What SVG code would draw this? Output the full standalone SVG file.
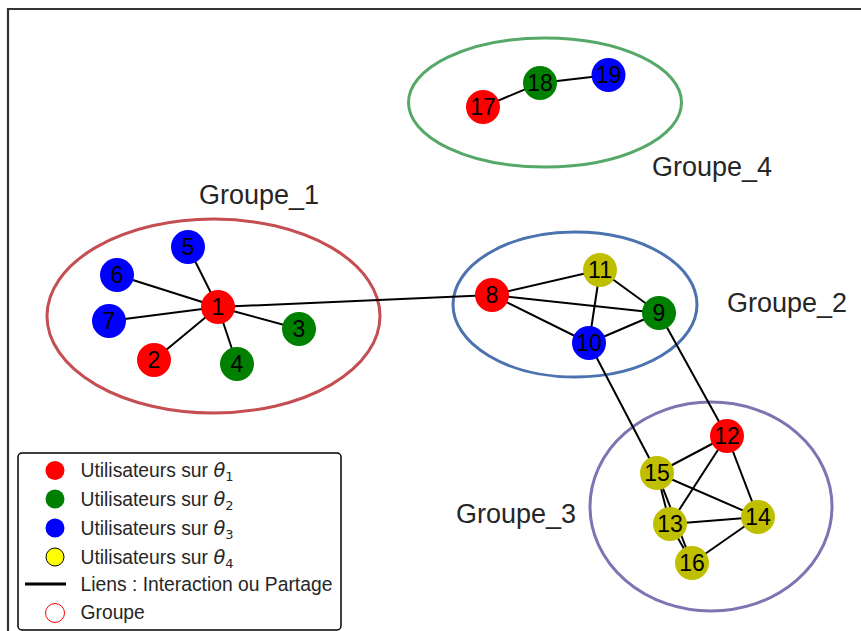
<svg xmlns="http://www.w3.org/2000/svg" width="861" height="631" viewBox="0 0 861 631">
<style>
.edge{stroke:#000;stroke-width:2;fill:none}
.grp{fill:none;stroke-width:3}
.n circle{stroke:none}
.n text{font-family:"Liberation Sans",Arial,sans-serif;font-size:23px;text-anchor:middle;fill:#000}
.r{fill:#ff0000}.g{fill:#008000}.b{fill:#0000ff}.y{fill:#bfbf00}
.lbl{font-family:"Liberation Sans",Arial,sans-serif;font-size:27px;fill:#262626}
.leg{font-family:"Liberation Sans",Arial,sans-serif;font-size:19.3px;fill:#262626}
.th{font-family:"DejaVu Sans",sans-serif;font-style:italic}
.sub{font-family:"DejaVu Sans",sans-serif;font-size:13px}
</style>
<rect width="861" height="631" fill="#fff"/>
<path d="M8,631 V9 H861" fill="none" stroke="#333" stroke-width="2.2"/>

<g id="groups">
<ellipse id="groupe1" class="grp" cx="213.5" cy="316" rx="166.5" ry="97" stroke="#c44e52"/>
<ellipse id="groupe2" class="grp" cx="575" cy="304.5" rx="122" ry="72.5" stroke="#4c72b0"/>
<ellipse id="groupe3" class="grp" cx="711" cy="506.5" rx="121" ry="104.5" stroke="#8172b2"/>
<ellipse id="groupe4" class="grp" cx="545" cy="102.5" rx="136.5" ry="64.5" stroke="#55a868"/>
</g>

<g id="connectors">
<line class="edge" x1="218" y1="307" x2="188" y2="247"/>
<line class="edge" x1="218" y1="307" x2="117" y2="275"/>
<line class="edge" x1="218" y1="307" x2="109" y2="321"/>
<line class="edge" x1="218" y1="307" x2="154" y2="360"/>
<line class="edge" x1="218" y1="307" x2="237" y2="364"/>
<line class="edge" x1="218" y1="307" x2="299" y2="329"/>
<line class="edge" x1="218" y1="307" x2="492" y2="295"/>
<line class="edge" x1="492" y1="295" x2="600" y2="270"/>
<line class="edge" x1="492" y1="295" x2="659" y2="313"/>
<line class="edge" x1="492" y1="295" x2="589" y2="343"/>
<line class="edge" x1="600" y1="270" x2="589" y2="343"/>
<line class="edge" x1="600" y1="270" x2="659" y2="313"/>
<line class="edge" x1="589" y1="343" x2="659" y2="313"/>
<line class="edge" x1="659" y1="313" x2="727" y2="436"/>
<line class="edge" x1="589" y1="343" x2="657" y2="473"/>
<line class="edge" x1="727" y1="436" x2="657" y2="473"/>
<line class="edge" x1="727" y1="436" x2="670" y2="524"/>
<line class="edge" x1="727" y1="436" x2="758" y2="517"/>
<line class="edge" x1="657" y1="473" x2="758" y2="517"/>
<line class="edge" x1="657" y1="473" x2="670" y2="524"/>
<line class="edge" x1="657" y1="473" x2="692" y2="563"/>
<line class="edge" x1="670" y1="524" x2="692" y2="563"/>
<line class="edge" x1="670" y1="524" x2="758" y2="517"/>
<line class="edge" x1="758" y1="517" x2="692" y2="563"/>
<line class="edge" x1="483" y1="107" x2="540" y2="83"/>
<line class="edge" x1="540" y1="83" x2="608.5" y2="75"/>
</g>

<g id="node1" class="n"><circle class="r" cx="218" cy="307" r="17"/><text x="218" y="315">1</text></g>
<g id="node2" class="n"><circle class="r" cx="154" cy="360" r="17"/><text x="154" y="368">2</text></g>
<g id="node3" class="n"><circle class="g" cx="299" cy="329" r="17"/><text x="299" y="337">3</text></g>
<g id="node4" class="n"><circle class="g" cx="237" cy="364" r="17"/><text x="237" y="372">4</text></g>
<g id="node5" class="n"><circle class="b" cx="188" cy="247" r="17"/><text x="188" y="255">5</text></g>
<g id="node6" class="n"><circle class="b" cx="117" cy="275" r="17"/><text x="117" y="283">6</text></g>
<g id="node7" class="n"><circle class="b" cx="109" cy="321" r="17"/><text x="109" y="329">7</text></g>
<g id="node8" class="n"><circle class="r" cx="492" cy="295" r="17"/><text x="492" y="303">8</text></g>
<g id="node9" class="n"><circle class="g" cx="659" cy="313" r="17"/><text x="659" y="321">9</text></g>
<g id="node10" class="n"><circle class="b" cx="589" cy="343" r="17"/><text x="589" y="351">10</text></g>
<g id="node11" class="n"><circle class="y" cx="600" cy="270" r="17"/><text x="600" y="278">11</text></g>
<g id="node12" class="n"><circle class="r" cx="727" cy="436" r="17"/><text x="727" y="444">12</text></g>
<g id="node13" class="n"><circle class="y" cx="670" cy="524" r="17"/><text x="670" y="532">13</text></g>
<g id="node14" class="n"><circle class="y" cx="758" cy="517" r="17"/><text x="758" y="525">14</text></g>
<g id="node15" class="n"><circle class="y" cx="657" cy="473" r="17"/><text x="657" y="481">15</text></g>
<g id="node16" class="n"><circle class="y" cx="692" cy="563" r="17"/><text x="692" y="571">16</text></g>
<g id="node17" class="n"><circle class="r" cx="483" cy="107" r="17"/><text x="483" y="115">17</text></g>
<g id="node18" class="n"><circle class="g" cx="540" cy="83" r="17"/><text x="540" y="91">18</text></g>
<g id="node19" class="n"><circle class="b" cx="608.5" cy="75" r="17"/><text x="608.5" y="83">19</text></g>

<g id="labels">
<text class="lbl" x="199" y="204">Groupe_1</text>
<text class="lbl" x="652" y="176">Groupe_4</text>
<text class="lbl" x="727" y="312">Groupe_2</text>
<text class="lbl" x="456" y="523">Groupe_3</text>
</g>

<g id="legend">
<rect x="18" y="453" width="323" height="177" rx="4" fill="#fff" stroke="#000" stroke-width="1.5"/>
<circle cx="55" cy="470.5" r="9.5" fill="#ff0000"/>
<circle cx="55" cy="499" r="9.5" fill="#008000"/>
<circle cx="55" cy="528" r="9.5" fill="#0000ff"/>
<circle cx="55" cy="557" r="9" fill="#ffff00" stroke="#000" stroke-width="1"/>
<line x1="25" y1="584" x2="66" y2="584" stroke="#000" stroke-width="3"/>
<circle cx="55" cy="613" r="9.5" fill="none" stroke="#ff0000" stroke-width="1"/>
<text class="leg" x="80.5" y="477">Utilisateurs sur <tspan class="th">θ</tspan><tspan class="sub" dy="4">1</tspan></text>
<text class="leg" x="80.5" y="506">Utilisateurs sur <tspan class="th">θ</tspan><tspan class="sub" dy="4">2</tspan></text>
<text class="leg" x="80.5" y="535">Utilisateurs sur <tspan class="th">θ</tspan><tspan class="sub" dy="4">3</tspan></text>
<text class="leg" x="80.5" y="564">Utilisateurs sur <tspan class="th">θ</tspan><tspan class="sub" dy="4">4</tspan></text>
<text class="leg" x="80.5" y="591">Liens : Interaction ou Partage</text>
<text class="leg" x="80.5" y="619">Groupe</text>
</g>
</svg>
